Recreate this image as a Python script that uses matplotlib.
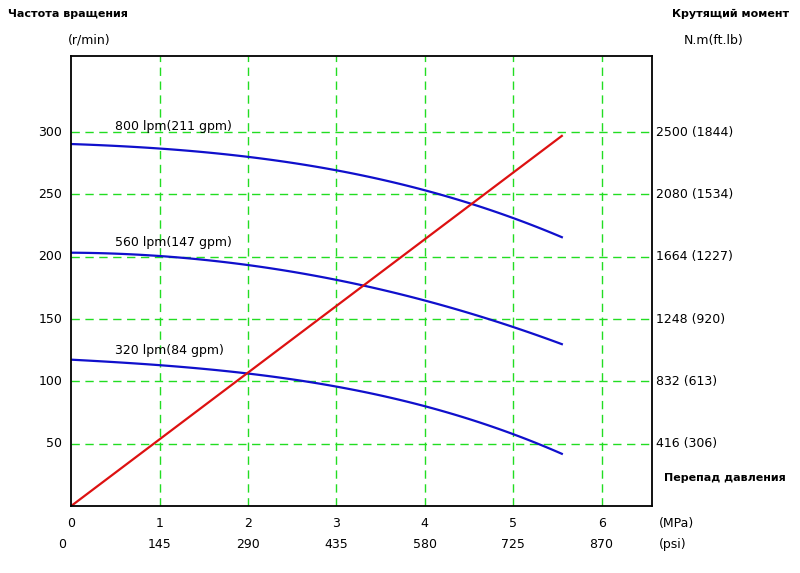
import matplotlib
matplotlib.use("Agg")
import matplotlib.pyplot as plt
import numpy as np

p_mpa = [0, 1, 2, 3, 4, 5, 5.55]
n800 = [290, 288, 280, 268, 254, 232, 215]
n560 = [203, 201, 194, 180, 165, 145, 129]
n320 = [117, 114, 106, 95, 80, 59, 41]
torque_p = [0, 5.55]
torque_n = [0, 297]
yticks = [50, 100, 150, 200, 250, 300]
right_labels = ["416 (306)", "832 (613)", "1248 (920)", "1664 (1227)", "2080 (1534)", "2500 (1844)"]
xticks = [0, 1, 2, 3, 4, 5, 6]
psi_labels = ["0", "145", "290", "435", "580", "725", "870"]
curve_labels = ["800 lpm(211 gpm)", "560 lpm(147 gpm)", "320 lpm(84 gpm)"]

fig = plt.figure(figsize=(8, 5.73), dpi=100)
ax = fig.add_axes([0.089, 0.117, 0.726, 0.785])
ax.set_xlim(0, 6.57)
ax.set_ylim(0, 361)
for x in xticks[1:]:
    ax.axvline(x, color="#22dd22", ls=(0, (6, 4)), lw=1)
for y in yticks:
    ax.axhline(y, color="#22dd22", ls=(0, (6, 4)), lw=1)

def smooth(xs, ys):
    xx = np.linspace(xs[0], xs[-1], 100)
    c = np.polyfit(xs, ys, 3)
    return xx, np.polyval(c, xx)

for ys in (n800, n560, n320):
    xx, yy = smooth(p_mpa, ys)
    ax.plot(xx, yy, color="#1010cc", lw=1.6)
ax.plot(torque_p, torque_n, color="#dd1111", lw=1.6)

ax.text(0.5, 302, curve_labels[0], fontsize=9)
ax.text(0.5, 209, curve_labels[1], fontsize=9)
ax.text(0.5, 122, curve_labels[2], fontsize=9)

ax.set_xticks([]); ax.set_yticks([])
for y in yticks:
    ax.text(-0.1, y, str(y), ha="right", va="center", fontsize=9)
for y, l in zip(yticks, right_labels):
    ax.text(6.57 + 0.05, y, l, ha="left", va="center", fontsize=9)
tr = ax.get_xaxis_transform()
for x in xticks:
    ax.text(x, -0.04, str(x), ha="center", va="center", fontsize=9, transform=tr)
for x, l in zip(xticks, psi_labels):
    ax.text(x - (0.1 if x == 0 else 0), -0.085, l, ha="center", va="center", fontsize=9, transform=tr)
ax.text(6.65, -0.04, "(MPa)", ha="left", va="center", fontsize=9, transform=tr)
ax.text(6.65, -0.085, "(psi)", ha="left", va="center", fontsize=9, transform=tr)

fig.text(0.01, 0.975, "Частота вращения", fontsize=8, fontweight="bold", va="center")
fig.text(0.085, 0.93, "(r/min)", fontsize=9, va="center")
fig.text(0.84, 0.975, "Крутящий момент", fontsize=8, fontweight="bold", va="center")
fig.text(0.855, 0.93, "N.m(ft.lb)", fontsize=9, va="center")
fig.text(0.83, 0.165, "Перепад давления", fontsize=8, fontweight="bold", va="center")
for s in ax.spines.values():
    s.set_linewidth(1.3)
fig.savefig("out.png")
